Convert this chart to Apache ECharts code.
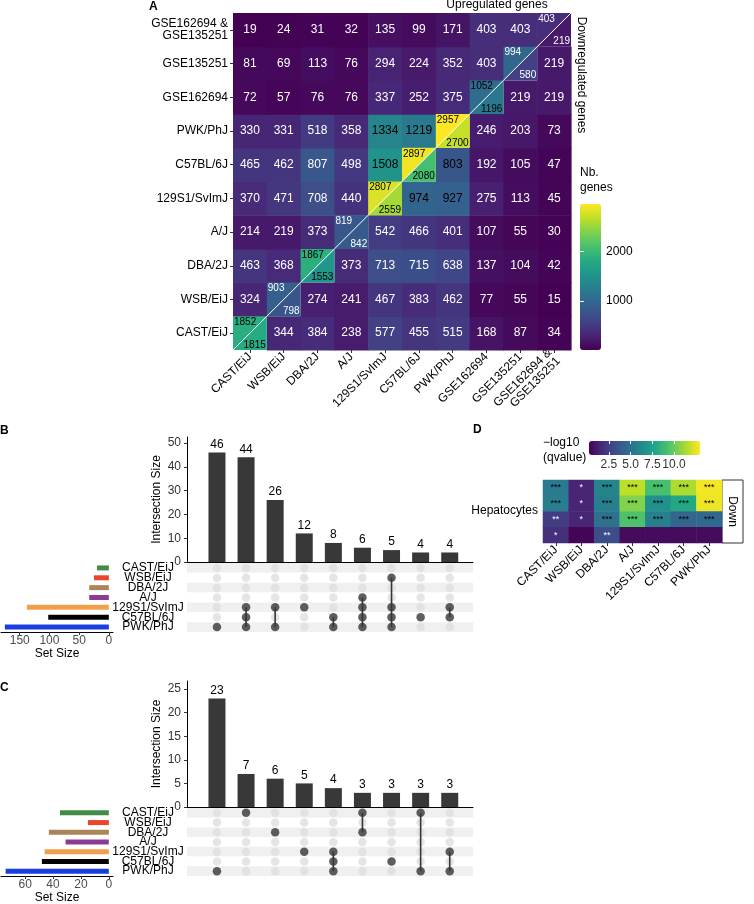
<!DOCTYPE html>
<html>
<head>
<meta charset="utf-8">
<script src="https://cdn.jsdelivr.net/npm/echarts@6/dist/echarts.min.js"></script>
<style>
html, body { margin: 0; padding: 0; background: #fff; }
#chart { width: 754px; height: 904px; }
</style>
</head>
<body>
<div id="chart"></div>
<script>
// ---- data ----
// A: strains / datasets, bottom row first (same order on the x axis)
var strains = ['CAST/EiJ', 'WSB/EiJ', 'DBA/2J', 'A/J', '129S1/SvImJ', 'C57BL/6J', 'PWK/PhJ',
    'GSE162694', 'GSE135251', 'GSE162694 &\nGSE135251'];
// shared gene counts, row i = strains[i], column j = strains[j] (diagonal unused)
var crossCounts = [
    [null, 344, 384, 238, 577, 455, 515, 168, 87, 34],
    [324, null, 274, 241, 467, 383, 462, 77, 55, 15],
    [463, 368, null, 373, 713, 715, 638, 137, 104, 42],
    [214, 219, 373, null, 542, 466, 401, 107, 55, 30],
    [370, 471, 708, 440, null, 974, 927, 275, 113, 45],
    [465, 462, 807, 498, 1508, null, 803, 192, 105, 47],
    [330, 331, 518, 358, 1334, 1219, null, 246, 203, 73],
    [72, 57, 76, 76, 337, 252, 375, null, 219, 219],
    [81, 69, 113, 76, 294, 224, 352, 403, null, 219],
    [19, 24, 31, 32, 135, 99, 171, 403, 403, null]
];
var diagUp = [1852, 903, 1867, 819, 2807, 2897, 2957, 1052, 994, 403];
var diagDown = [1815, 798, 1553, 842, 2559, 2080, 2700, 1196, 580, 219];
var countTicks = [1000, 2000];

// B / C: UpSet plots
var setNames = ['CAST/EiJ', 'WSB/EiJ', 'DBA/2J', 'A/J', '129S1/SvImJ', 'C57BL/6J', 'PWK/PhJ'];
var upSetSizes = [20, 25, 33, 33, 138, 102, 175];
var upInterSizes = [46, 44, 26, 12, 8, 6, 5, 4, 4];
var upInterSets = [
    ['PWK/PhJ'],
    ['129S1/SvImJ', 'C57BL/6J', 'PWK/PhJ'],
    ['129S1/SvImJ', 'PWK/PhJ'],
    ['129S1/SvImJ'],
    ['C57BL/6J', 'PWK/PhJ'],
    ['A/J', '129S1/SvImJ', 'C57BL/6J', 'PWK/PhJ'],
    ['WSB/EiJ', '129S1/SvImJ', 'C57BL/6J', 'PWK/PhJ'],
    ['C57BL/6J'],
    ['129S1/SvImJ', 'C57BL/6J']
];
var upSizeTicks = [0, 50, 100, 150];
var upInterTicks = [0, 10, 20, 30, 40, 50];

var downSetSizes = [35, 15, 43, 31, 46, 48, 74];
var downInterSizes = [23, 7, 6, 5, 4, 3, 3, 3, 3];
var downInterSets = [
    ['PWK/PhJ'],
    ['CAST/EiJ'],
    ['DBA/2J'],
    ['129S1/SvImJ'],
    ['129S1/SvImJ', 'C57BL/6J', 'PWK/PhJ'],
    ['CAST/EiJ', 'DBA/2J'],
    ['C57BL/6J'],
    ['CAST/EiJ', 'PWK/PhJ'],
    ['129S1/SvImJ', 'PWK/PhJ']
];
var downSizeTicks = [0, 20, 40, 60];
var downInterTicks = [0, 5, 10, 15, 20, 25];

// D: -log10(qvalue), 4 rows x 7 strains
var qRows = ['r1', 'r2', 'r3', 'r4'];
var qValues = [
    [5.4, 1.5, 6.0, 11.7, 9.2, 11.4, 12.8],
    [5.6, 1.5, 5.7, 10.6, 6.6, 7.9, 12.7],
    [2.5, 1.5, 4.9, 9.4, 5.8, 4.4, 4.5],
    [1.9, 0.3, 3.2, 0.6, 0.6, 0.6, 0.6]
];
var qStars = [
    ['***', '*', '***', '***', '***', '***', '***'],
    ['***', '*', '***', '***', '***', '***', '***'],
    ['**', '*', '***', '***', '***', '***', '***'],
    ['*', '', '**', '', '', '', '']
];
var qTicks = [2.5, 5, 7.5, 10];

// ---- style ----
var FONT = '"Liberation Sans", Arial, sans-serif';
var VIRIDIS = ['#440154', '#482475', '#414487', '#355f8d', '#2a788e', '#21918c',
    '#22a884', '#44bf70', '#7ad151', '#bddf26', '#fde725'];
var setColors = ['#438c45', '#e8452c', '#a8865a', '#8b3a96', '#f0a04b', '#000000', '#1a3fe0'];
var DOT = '#363636';
var DOT_OFF = '#dedede';
var STRIPE = '#f0f0f0';
var COL_MIN = -1.03, COL_MAX = 8.8;

var myChart = echarts.init(document.getElementById('chart'));

// heatmap A cells: [col, row, value, part] part 0 = full cell, 1 = upper-left, 2 = lower-right
var cells = [];
crossCounts.forEach(function (row, i) {
    row.forEach(function (v, j) {
        if (i !== j) cells.push([j, i, v, 0]);
    });
});
diagUp.forEach(function (v, i) { cells.push([i, i, v, 1]); });
diagDown.forEach(function (v, i) { cells.push([i, i, v, 2]); });

function renderCell(params, api) {
    var j = api.value(0), i = api.value(1), v = api.value(2), part = api.value(3);
    var c = api.coord([j, i]);
    var s = api.size([1, 1]);
    var x0 = c[0] - s[0] / 2, y0 = c[1] - s[1] / 2, x1 = x0 + s[0], y1 = y0 + s[1];
    var color = api.visual('color');
    var dark = v >= 1000 || (part === 0 && j > i && v > 800);
    var txt = dark ? '#000' : '#fff';
    if (part === 0) {
        return {
            type: 'group', children: [
                { type: 'rect', shape: { x: x0, y: y0, width: s[0] + 0.6, height: s[1] + 0.6 }, style: { fill: color } },
                { type: 'text', style: { text: String(v), x: c[0], y: c[1], fill: txt, font: '12px ' + FONT, align: 'center', verticalAlign: 'middle' } }
            ]
        };
    }
    if (part === 1) {
        return {
            type: 'group', children: [
                { type: 'polygon', shape: { points: [[x0, y0], [x1 + 0.6, y0], [x0, y1 + 0.6]] }, style: { fill: color } },
                { type: 'text', style: { text: String(v), x: x0 + 1, y: y0 + 1, fill: txt, font: '10px ' + FONT, align: 'left', verticalAlign: 'top' } },
                { type: 'line', z2: 100, shape: { x1: x0, y1: y1, x2: x1, y2: y0 }, style: { stroke: '#fff', lineWidth: 1 } }
            ]
        };
    }
    return {
        type: 'group', children: [
            { type: 'polygon', shape: { points: [[x1, y0], [x1, y1], [x0, y1]] }, style: { fill: color } },
            { type: 'text', style: { text: String(v), x: x1 - 1, y: y1, fill: txt, font: '10px ' + FONT, align: 'right', verticalAlign: 'bottom' } }
        ]
    };
}

function renderLink(params, api) {
    var a = api.coord([api.value(0), api.value(1)]);
    var b = api.coord([api.value(0), api.value(2)]);
    return { type: 'line', shape: { x1: a[0], y1: a[1], x2: b[0], y2: b[1] }, style: { stroke: DOT, lineWidth: 1.6 } };
}

// UpSet series for one panel; g = first axis index of the panel
function upsetSeries(sizes, inter, members, g) {
    var bars = [], off = [], on = [], links = [];
    inter.forEach(function (v, k) {
        bars.push([k, v]);
        var rows = members[k].map(function (n) { return setNames.indexOf(n); });
        setNames.forEach(function (n, r) {
            if (rows.indexOf(r) < 0) off.push([k, r]);
        });
        rows.forEach(function (r) { on.push([k, r]); });
        if (rows.length > 1) links.push([k, Math.min.apply(null, rows), Math.max.apply(null, rows)]);
    });
    return [
        {
            type: 'bar', xAxisIndex: g, yAxisIndex: g, data: bars, barWidth: 17,
            itemStyle: { color: '#383838' },
            label: { show: true, position: 'top', distance: 2, color: '#000', fontSize: 12, fontFamily: FONT,
                formatter: function (p) { return p.value[1]; } }
        },
        { type: 'scatter', xAxisIndex: g + 1, yAxisIndex: g + 1, data: off, symbolSize: 8.5, z: 2, itemStyle: { color: DOT_OFF } },
        { type: 'custom', xAxisIndex: g + 1, yAxisIndex: g + 1, data: links, z: 3, renderItem: renderLink, encode: { x: 0, y: [1, 2] } },
        { type: 'scatter', xAxisIndex: g + 1, yAxisIndex: g + 1, data: on, symbolSize: 8.5, z: 4, itemStyle: { color: DOT } },
        {
            type: 'bar', xAxisIndex: g + 2, yAxisIndex: g + 2, barWidth: 5,
            data: sizes.map(function (v, r) { return { value: v, itemStyle: { color: setColors[r] } }; })
        }
    ];
}

function upsetXAxes(g, sizeMin, sizeMax, sizeTicks) {
    return [
        { gridIndex: g, type: 'value', min: COL_MIN, max: COL_MAX,
          axisLine: { show: true, onZero: false, lineStyle: { color: '#000', width: 1 } },
          axisTick: { show: false }, axisLabel: { show: false }, splitLine: { show: false } },
        { gridIndex: g + 1, type: 'value', min: COL_MIN, max: COL_MAX, show: false },
        { gridIndex: g + 2, type: 'value', inverse: true, min: sizeMin, max: sizeMax,
          axisLine: { show: true, onZero: false, lineStyle: { color: '#000', width: 1 } },
          axisTick: { show: true, length: 3, customValues: sizeTicks, lineStyle: { color: '#333' } },
          axisLabel: { customValues: sizeTicks, color: '#4d4d4d', fontSize: 12, margin: 3, fontFamily: FONT },
          splitLine: { show: false },
          name: 'Set Size', nameLocation: 'middle', nameGap: 15,
          nameTextStyle: { color: '#000', fontSize: 12, fontFamily: FONT } }
    ];
}

function upsetYAxes(g, yMax, ticks) {
    return [
        { gridIndex: g, type: 'value', min: 0, max: yMax,
          axisLine: { show: true, onZero: false, lineStyle: { color: '#000', width: 1 } },
          axisTick: { show: true, length: 3, customValues: ticks, lineStyle: { color: '#333' } },
          axisLabel: { customValues: ticks, color: '#333', fontSize: 12, margin: 6, fontFamily: FONT },
          splitLine: { show: false },
          name: 'Intersection Size', nameLocation: 'middle', nameGap: 24,
          nameTextStyle: { color: '#000', fontSize: 12, fontFamily: FONT } },
        { gridIndex: g + 1, type: 'category', data: setNames, inverse: true,
          axisLine: { show: false }, axisTick: { show: false },
          axisLabel: { align: 'center', margin: 39, color: '#000', fontSize: 12, fontFamily: FONT, interval: 0 },
          splitLine: { show: false },
          splitArea: { show: true, areaStyle: { color: [STRIPE, '#ffffff'] } } },
        { gridIndex: g + 2, type: 'category', data: setNames, inverse: true, show: false }
    ];
}

// D heatmap cells
var qCells = [];
qValues.forEach(function (row, r) {
    row.forEach(function (v, c) {
        qCells.push({ value: [c, r, v], label: { color: v < 4 ? '#fff' : '#000' } });
    });
});

function gridBox(left, top, width, height) {
    return { left: left, top: top, width: width, height: height, containLabel: false, outerBoundsMode: 'none' };
}

var catAxisStyle = {
    axisLine: { show: false },
    axisTick: { show: true, alignWithLabel: true, length: 3, lineStyle: { color: '#333' } },
    splitLine: { show: false }, splitArea: { show: false }
};

var option = {
    animation: false,
    textStyle: { fontFamily: FONT },
    grid: [
        gridBox(233, 13, 338, 337),   // 0 A heatmap
        gridBox(580, 204, 21, 146),   // 1 A colorbar
        gridBox(187, 437, 286, 125),  // 2 B bars
        gridBox(187, 563, 286, 69),   // 3 B matrix
        gridBox(1, 563, 112, 69),     // 4 B set size
        gridBox(187, 681, 286, 126),  // 5 C bars
        gridBox(187, 808, 286, 68),   // 6 C matrix
        gridBox(1, 808, 112, 68),     // 7 C set size
        gridBox(543, 480, 179, 63),   // 8 D heatmap
        gridBox(589, 441, 111, 14)    // 9 D colorbar
    ],
    xAxis: [].concat(
        [Object.assign({ gridIndex: 0, type: 'category', data: strains,
            axisLabel: { rotate: 45, color: '#000', fontSize: 12, margin: 5, interval: 0, fontFamily: FONT } }, catAxisStyle),
         { gridIndex: 1, type: 'value', show: false }],
        upsetXAxes(2, -7, 181.5, upSizeTicks),
        upsetXAxes(5, -3, 77.3, downSizeTicks),
        [Object.assign({ gridIndex: 8, type: 'category', data: setNames,
            axisLabel: { rotate: 45, color: '#000', fontSize: 12, margin: 5, interval: 0, fontFamily: FONT } }, catAxisStyle),
         { gridIndex: 9, type: 'value', position: 'bottom', min: 0.2, max: 13, z: 10,
           axisLine: { show: false },
           axisTick: { show: true, inside: true, length: 3, customValues: qTicks, lineStyle: { color: '#fff' } },
           axisLabel: { customValues: qTicks, color: '#333', fontSize: 12, margin: 4, fontFamily: FONT,
               formatter: function (v) { return v.toFixed(1); } },
           splitLine: { show: false } },
         { gridIndex: 9, type: 'value', position: 'top', min: 0.2, max: 13, z: 10,
           axisLine: { show: false },
           axisTick: { show: true, inside: true, length: 3, customValues: qTicks, lineStyle: { color: '#fff' } },
           axisLabel: { show: false }, splitLine: { show: false } }]
    ),
    yAxis: [].concat(
        [Object.assign({ gridIndex: 0, type: 'category', data: strains,
            axisLabel: { color: '#000', fontSize: 12, margin: 5, interval: 0, fontFamily: FONT } }, catAxisStyle),
         { gridIndex: 1, type: 'value', position: 'right', min: 15, max: 2957, z: 10,
           axisLine: { show: false },
           axisTick: { show: true, inside: true, length: 4, customValues: countTicks, lineStyle: { color: '#fff' } },
           axisLabel: { customValues: countTicks, color: '#000', fontSize: 12, margin: 5, fontFamily: FONT,
               formatter: function (v) { return String(v); } },
           splitLine: { show: false } }],
        upsetYAxes(2, 52.5, upInterTicks),
        upsetYAxes(5, 26.7, downInterTicks),
        [{ gridIndex: 8, type: 'category', data: qRows, inverse: true, show: false },
         { gridIndex: 9, type: 'value', show: false },
         { gridIndex: 1, type: 'value', position: 'left', min: 15, max: 2957, z: 10,
           axisLine: { show: false },
           axisTick: { show: true, inside: true, length: 4, customValues: countTicks, lineStyle: { color: '#fff' } },
           axisLabel: { show: false }, splitLine: { show: false } }]
    ),
    visualMap: [
        { type: 'continuous', seriesIndex: 0, dimension: 2, min: 15, max: 2957,
          inRange: { color: VIRIDIS }, orient: 'vertical', left: 580, top: 204,
          itemWidth: 21, itemHeight: 146, padding: 0, calculable: false, hoverLink: false, text: null },
        { type: 'continuous', seriesIndex: 11, dimension: 2, min: 0.2, max: 13,
          inRange: { color: VIRIDIS }, orient: 'horizontal', left: 589, top: 441,
          itemWidth: 14, itemHeight: 111, padding: 0, calculable: false, hoverLink: false, text: null }
    ],
    series: [].concat(
        [{ type: 'custom', xAxisIndex: 0, yAxisIndex: 0, data: cells, renderItem: renderCell, encode: { x: 0, y: 1 } }],
        upsetSeries(upSetSizes, upInterSizes, upInterSets, 2),
        upsetSeries(downSetSizes, downInterSizes, downInterSets, 5),
        [{ type: 'heatmap', xAxisIndex: 8, yAxisIndex: 8, data: qCells,
           label: { show: true, fontSize: 9, fontFamily: FONT,
               formatter: function (p) { return qStars[p.value[1]][p.value[0]]; } },
           emphasis: { disabled: true } }]
    ),
    graphic: [
        { type: 'text', x: 149, y: 1, style: { text: 'A', font: 'bold 12px ' + FONT, fill: '#000', align: 'left', verticalAlign: 'top' } },
        { type: 'text', x: 497, y: 5, style: { text: 'Upregulated genes', font: '12px ' + FONT, fill: '#000', align: 'center', verticalAlign: 'middle' } },
        { type: 'text', x: 581, y: 75, rotation: -Math.PI / 2, style: { text: 'Downregulated genes', font: '12px ' + FONT, fill: '#000', align: 'center', verticalAlign: 'middle' } },
        { type: 'text', x: 580, y: 173, style: { text: 'Nb.', font: '12px ' + FONT, fill: '#000', align: 'left', verticalAlign: 'middle' } },
        { type: 'text', x: 580, y: 188, style: { text: 'genes', font: '12px ' + FONT, fill: '#000', align: 'left', verticalAlign: 'middle' } },
        { type: 'text', x: 0, y: 431, style: { text: 'B', font: 'bold 12px ' + FONT, fill: '#000', align: 'left', verticalAlign: 'middle' } },
        { type: 'text', x: 0, y: 688, style: { text: 'C', font: 'bold 12px ' + FONT, fill: '#000', align: 'left', verticalAlign: 'middle' } },
        { type: 'text', x: 473, y: 430, style: { text: 'D', font: 'bold 12px ' + FONT, fill: '#000', align: 'left', verticalAlign: 'middle' } },
        { type: 'text', x: 543, y: 443, style: { text: '\u2212log10', font: '12px ' + FONT, fill: '#000', align: 'left', verticalAlign: 'middle' } },
        { type: 'text', x: 543, y: 458, style: { text: '(qvalue)', font: '12px ' + FONT, fill: '#000', align: 'left', verticalAlign: 'middle' } },
        { type: 'text', x: 538, y: 511, style: { text: 'Hepatocytes', font: '12px ' + FONT, fill: '#000', align: 'right', verticalAlign: 'middle' } },
        { type: 'rect', shape: { x: 722, y: 480, width: 21, height: 63 }, style: { fill: '#fff', stroke: '#333', lineWidth: 1 } },
        { type: 'text', x: 732.5, y: 511.5, rotation: -Math.PI / 2, style: { text: 'Down', font: '12px ' + FONT, fill: '#000', align: 'center', verticalAlign: 'middle' } }
    ]
};

myChart.setOption(option);
</script>
</body>
</html>
